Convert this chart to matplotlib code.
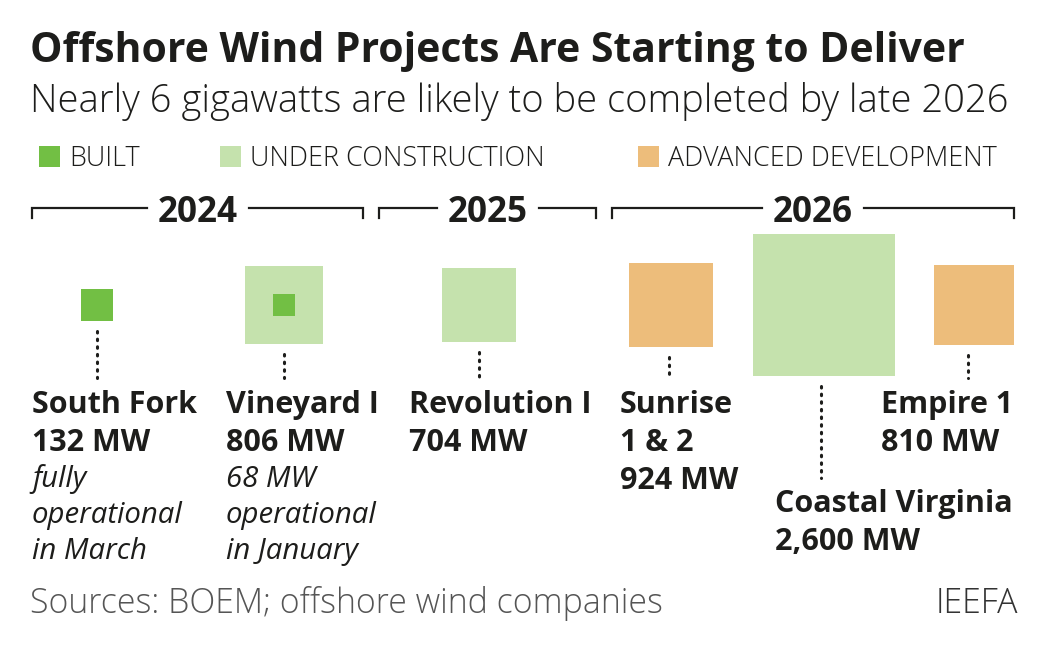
import matplotlib
matplotlib.use("Agg")
import matplotlib.pyplot as plt
import numpy as np
from matplotlib.patches import Rectangle

# data
projects = ["South Fork", "Vineyard I", "Revolution I", "Sunrise\n1 & 2", "Coastal Virginia", "Empire 1"]
capacity_mw = [132, 806, 704, 924, 2600, 810]
operating_mw = [132, 68, 0, 0, 0, 0]
status = ["built", "under", "under", "advanced", "under", "advanced"]
notes = ["fully\noperational\nin March", "68 MW\noperational\nin January", "", "", "", ""]
years = ["2024", "2025", "2026"]
legend_labels = ["BUILT", "UNDER CONSTRUCTION", "ADVANCED DEVELOPMENT"]

COLORS = {"built": "#72bf44", "under": "#c5e2ad", "advanced": "#edbd7b"}
INK = "#1d1d1b"

# layout in pixels (figure is 1050 x 652)
W, H = 1050, 652
center_x = [97, 284, 479, 671, 824, 974]
center_y = 305
px_per_sqrt_mw = 2.78
label_x = [32, 226, 409, 620, 775, 881]
label_y = [413, 413, 413, 413, 512, 413]
dot_x = [97, 284, 479, 669, 821, 968]
dot_end = [378, 378, 378, 378, 478, 378]
bracket_x = [(32, 363), (379, 596), (612, 1014)]
legend_x = [39, 220, 638]

FAMILY = ["Open Sans", "DejaVu Sans"]

fig = plt.figure(figsize=(W / 100, H / 100), dpi=100)
ax = fig.add_axes([0, 0, 1, 1])
ax.set_xlim(0, W)
ax.set_ylim(H, 0)
ax.axis("off")
renderer = fig.canvas.get_renderer()


def text_width(s, fs, **kw):
    t = ax.text(0, 0, s, fontsize=fs, family=FAMILY, **kw)
    w = t.get_window_extent(renderer).width
    t.remove()
    return w


def fit_size(s, width_px, **kw):
    return 20 * width_px / text_width(s, 20, **kw)


title_fs = fit_size("Offshore Wind Projects Are Starting to Deliver", 933, weight="bold")
sub_fs = fit_size("Nearly 6 gigawatts are likely to be completed by late 2026", 980, weight="light")
leg_fs = fit_size("UNDER CONSTRUCTION", 293, weight="light")
year_fs = fit_size("2024", 80, weight="bold")
lab_fs = fit_size("South Fork", 165, weight="bold")
note_fs = fit_size("operational", 151, style="italic")
foot_fs = fit_size("Sources: BOEM; offshore wind companies", 633, weight="light")

ax.text(30, 62, "Offshore Wind Projects Are Starting to Deliver", fontsize=title_fs,
        weight="bold", family=FAMILY, color=INK, va="baseline")
ax.text(30, 112, "Nearly 6 gigawatts are likely to be completed by late 2026", fontsize=sub_fs,
        weight="light", family=FAMILY, color=INK, va="baseline")

# legend
for x, lab, key in zip(legend_x, legend_labels, ["built", "under", "advanced"]):
    ax.add_patch(Rectangle((x, 146), 21, 21, color=COLORS[key], lw=0))
    ax.text(x + 30, 166, lab, fontsize=leg_fs, weight="light", family=FAMILY,
            color=INK, va="baseline")

# year brackets, line broken around the label
for (x0, x1), yr in zip(bracket_x, years):
    xc = (x0 + x1) / 2
    half = text_width(yr, year_fs, weight="bold") / 2 + 11
    ax.plot([x0, x0, xc - half], [218, 208, 208], color=INK, lw=1.6, solid_joinstyle="miter")
    ax.plot([xc + half, x1, x1], [208, 208, 218], color=INK, lw=1.6, solid_joinstyle="miter")
    ax.text(xc, 222, yr, fontsize=year_fs, weight="bold", family=FAMILY,
            color=INK, ha="center", va="baseline")

# squares sized by capacity
for i, mw in enumerate(capacity_mw):
    side = px_per_sqrt_mw * np.sqrt(mw)
    ax.add_patch(Rectangle((center_x[i] - side / 2, center_y - side / 2), side, side,
                           color=COLORS[status[i]], lw=0))
    if 0 < operating_mw[i] < mw:
        s2 = px_per_sqrt_mw * np.sqrt(operating_mw[i])
        ax.add_patch(Rectangle((center_x[i] - s2 / 2, center_y - s2 / 2), s2, s2,
                               color=COLORS["built"], lw=0))
    ax.plot([dot_x[i], dot_x[i]], [center_y + side / 2 + 10, dot_end[i]], color=INK,
            lw=2.2, linestyle=(0, (0.5, 2.0)), dash_capstyle="round")

    y = label_y[i]
    name_lines = projects[i].split("\n") + [f"{mw:,} MW"]
    for line in name_lines:
        ax.text(label_x[i], y, line, fontsize=lab_fs, weight="bold", family=FAMILY,
                color=INK, va="baseline")
        y += 38
    if notes[i]:
        y -= 2
        for line in notes[i].split("\n"):
            ax.text(label_x[i], y, line, fontsize=note_fs, style="italic",
                    family=FAMILY, color=INK, va="baseline")
            y += 36

ax.text(30, 613, "Sources: BOEM; offshore wind companies", fontsize=foot_fs, weight="light",
        family=FAMILY, color="#555555", va="baseline")
ax.text(1018, 613, "IEEFA", fontsize=foot_fs, weight="light", family=FAMILY,
        color="#333333", ha="right", va="baseline")

fig.savefig("out.png", dpi=100, facecolor="white")
